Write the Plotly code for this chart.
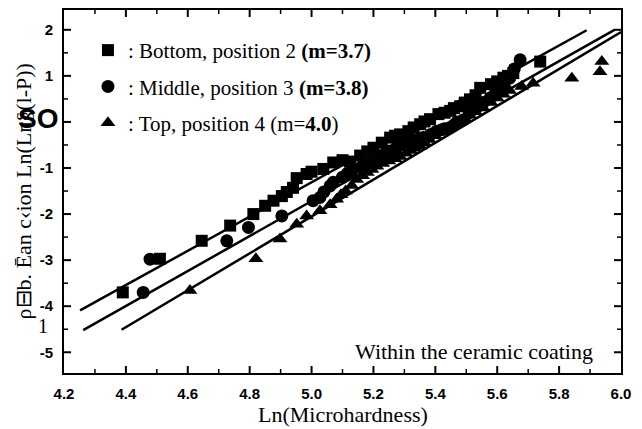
import plotly.graph_objects as go

# ---- data ----
bottom_x = [4.39, 4.51, 4.645, 4.737, 4.812, 4.85, 4.877, 4.904, 4.92, 4.94, 4.952, 4.984, 5.00,
            5.038, 5.070, 5.10, 5.124, 5.157, 5.18, 5.200, 5.227, 5.254, 5.27, 5.286, 5.313, 5.33,
            5.351, 5.365, 5.383, 5.410, 5.43, 5.448, 5.46, 5.480, 5.495, 5.512, 5.53, 5.545, 5.58,
            5.60, 5.620, 5.635, 5.652, 5.739]
bottom_y = [-3.70, -2.97, -2.58, -2.25, -2.00, -1.82, -1.71, -1.61, -1.52, -1.43, -1.22, -1.13, -1.08,
            -1.02, -0.88, -0.83, -0.86, -0.73, -0.64, -0.56, -0.45, -0.34, -0.30, -0.27, -0.20, -0.12,
            -0.05, 0.01, 0.06, 0.17, 0.20, 0.24, 0.30, 0.34, 0.42, 0.49, 0.58, 0.74, 0.82,
            0.88, 0.96, 1.00, 1.06, 1.31]

middle_x = [4.456, 4.478, 4.726, 4.796, 4.904, 5.005, 5.027, 5.04, 5.06, 5.07, 5.10, 5.115, 5.13,
            5.16, 5.175, 5.189, 5.205, 5.22, 5.235, 5.254, 5.275, 5.297, 5.315, 5.33, 5.345, 5.361,
            5.385, 5.404, 5.42, 5.43, 5.448, 5.46, 5.47, 5.491, 5.51, 5.52, 5.534, 5.545, 5.555,
            5.577, 5.59, 5.60, 5.62, 5.64, 5.655, 5.674]
middle_y = [-3.70, -2.98, -2.58, -2.29, -2.04, -1.71, -1.64, -1.52, -1.39, -1.31, -1.20, -1.12, -1.06,
            -0.98, -0.93, -0.88, -0.82, -0.75, -0.70, -0.63, -0.55, -0.48, -0.44, -0.40, -0.37, -0.34,
            -0.27, -0.20, -0.17, -0.15, -0.12, -0.07, 0.00, 0.05, 0.20, 0.26, 0.32, 0.37, 0.42,
            0.52, 0.58, 0.65, 0.82, 0.95, 1.15, 1.35]

top_x = [4.607, 4.82, 4.898, 4.952, 4.984, 5.027, 5.06, 5.081, 5.095, 5.11, 5.13, 5.146, 5.165,
         5.18, 5.195, 5.211, 5.23, 5.25, 5.27, 5.286, 5.305, 5.32, 5.335, 5.351, 5.365, 5.38,
         5.40, 5.415, 5.43, 5.45, 5.465, 5.48, 5.495, 5.51, 5.53, 5.555, 5.58, 5.60, 5.62, 5.64,
         5.679, 5.716, 5.841, 5.932, 5.938]
top_y = [-3.66, -2.97, -2.54, -2.22, -2.04, -1.93, -1.80, -1.68, -1.58, -1.50, -1.38, -1.25, -1.17,
         -1.10, -1.03, -0.96, -0.90, -0.85, -0.80, -0.75, -0.68, -0.62, -0.57, -0.52, -0.45, -0.38,
         -0.30, -0.22, -0.15, -0.08, -0.03, 0.02, 0.08, 0.15, 0.22, 0.30, 0.42, 0.52, 0.60, 0.68,
         0.77, 0.84, 0.95, 1.09, 1.31]

# fitted Weibull lines (end points)
fit_bottom_x = [4.252, 5.889]
fit_bottom_y = [-4.09, 1.99]
fit_middle_x = [4.262, 5.979]
fit_middle_y = [-4.52, 2.00]
fit_top_x = [4.386, 6.0]
fit_top_y = [-4.51, 1.95]

legend_names = [": Bottom, position 2 <b>(m=3.7)</b>",
                ": Middle, position 3 <b>(m=3.8)</b>",
                ": Top, position 4 (m=<b>4.0</b>)"]

x_tick_vals = [4.2, 4.4, 4.6, 4.8, 5.0, 5.2, 5.4, 5.6, 5.8, 6.0]
x_tick_text = ["4.2", "4.4", "4.6", "4.8", "5.0", "5.2", "5.4", "5.6", "5.8", "6.0"]
x_minor_vals = [4.3, 4.5, 4.7, 4.9, 5.1, 5.3, 5.5, 5.7, 5.9]
y_tick_vals = [-5, -4, -3, -2, -1, 0, 1, 2]
y_tick_text = ["-5", "-4", "-3", "-2", "-1", "", "1", "2"]
y_minor_vals = [-5.0 + 0.5 * k for k in range(0, 15, 2)][:0] + [-4.5, -3.5, -2.5, -1.5, -0.5, 0.5, 1.5]

X_RANGE = [4.2, 6.0]
Y_RANGE = [-5.45, 2.43]

SERIF = "Liberation Serif"
SANS = "Liberation Sans"

# plot area size in px (for tick-mark lengths)
PLOT_W = 642 - 64 - 21
PLOT_H = 429 - 8 - 56

fig = go.Figure()

for fx, fy in [(fit_bottom_x, fit_bottom_y), (fit_middle_x, fit_middle_y), (fit_top_x, fit_top_y)]:
    fig.add_trace(go.Scatter(x=fx, y=fy, mode="lines", line=dict(color="black", width=2.5),
                             showlegend=False, hoverinfo="skip"))

series = [(bottom_x, bottom_y, "square", 12),
          (middle_x, middle_y, "circle", 13),
          (top_x, top_y, "triangle-up", 13)]
for i, (sx, sy, sym, sz) in enumerate(series):
    fig.add_trace(go.Scatter(x=sx, y=sy, mode="markers", name=legend_names[i],
                             legendgroup=f"g{i}",
                             marker=dict(symbol=sym, size=sz, color="black",
                                         line=dict(width=0))))

# tick marks drawn inward on all four sides of the frame
def xtick(v, length_px, width):
    h = length_px / PLOT_H
    for y0, y1 in [(0, h), (1, 1 - h)]:
        fig.add_shape(type="line", xref="x", yref="paper", x0=v, x1=v, y0=y0, y1=y1,
                      line=dict(color="black", width=width), layer="above")

def ytick(v, length_px, width):
    w = length_px / PLOT_W
    for x0, x1 in [(0, w), (1, 1 - w)]:
        fig.add_shape(type="line", xref="paper", yref="y", x0=x0, x1=x1, y0=v, y1=v,
                      line=dict(color="black", width=width), layer="above")

for v in x_tick_vals[1:-1]:
    xtick(v, 7, 2)
for v in x_minor_vals:
    xtick(v, 4, 1.5)
for v in y_tick_vals:
    ytick(v, 7, 2)
for v in y_minor_vals:
    ytick(v, 4, 1.5)

fig.update_layout(
    width=642, height=429,
    margin=dict(l=64, r=21, t=8, b=56),
    paper_bgcolor="white", plot_bgcolor="white",
    showlegend=True,
    legend=dict(x=0.043, y=0.945, xanchor="left", yanchor="top",
                font=dict(family=SERIF, size=21, color="black"),
                bgcolor="rgba(0,0,0,0)", tracegroupgap=6, itemsizing="trace"),
    xaxis=dict(range=X_RANGE, tickmode="array", tickvals=x_tick_vals,
               ticktext=["<b>" + t + "</b>" for t in x_tick_text],
               tickfont=dict(family=SANS, size=15, color="black"),
               ticks="", ticklabelstandoff=6,
               showline=True, linewidth=2, linecolor="black", mirror=True,
               showgrid=False, zeroline=False),
    yaxis=dict(range=Y_RANGE, tickmode="array", tickvals=y_tick_vals,
               ticktext=["<b>" + t + "</b>" if t else "" for t in y_tick_text],
               tickfont=dict(family=SANS, size=15, color="black"),
               ticks="", ticklabelstandoff=6,
               showline=True, linewidth=2, linecolor="black", mirror=True,
               showgrid=False, zeroline=False),
)

fig.add_annotation(text="Ln(Microhardness)", xref="paper", yref="paper", x=0.5, y=-0.115,
                   showarrow=False, xanchor="center", yanchor="middle",
                   font=dict(family=SERIF, size=22, color="black"))
fig.add_annotation(text="ρ⊟b. Ēan c‹ion Ln(Ln§(l-P))", xref="paper", yref="paper",
                   x=-0.072, y=0.5, textangle=-90, showarrow=False,
                   xanchor="center", yanchor="middle",
                   font=dict(family=SERIF, size=22, color="black"))
fig.add_annotation(text="<b>SO</b>", xref="paper", yref="paper", x=-0.008, y=0.701,
                   showarrow=False, xanchor="right", yanchor="middle",
                   font=dict(family=SANS, size=28, color="black"))
fig.add_annotation(text="1", xref="paper", yref="paper", x=-0.037, y=0.13,
                   showarrow=False, xanchor="center", yanchor="middle",
                   font=dict(family=SERIF, size=20, color="black"))
fig.add_annotation(text="Within the ceramic coating", xref="paper", yref="paper",
                   x=0.953, y=0.060, showarrow=False, xanchor="right", yanchor="middle",
                   font=dict(family=SERIF, size=22, color="black"))

fig.write_html("out.html")
